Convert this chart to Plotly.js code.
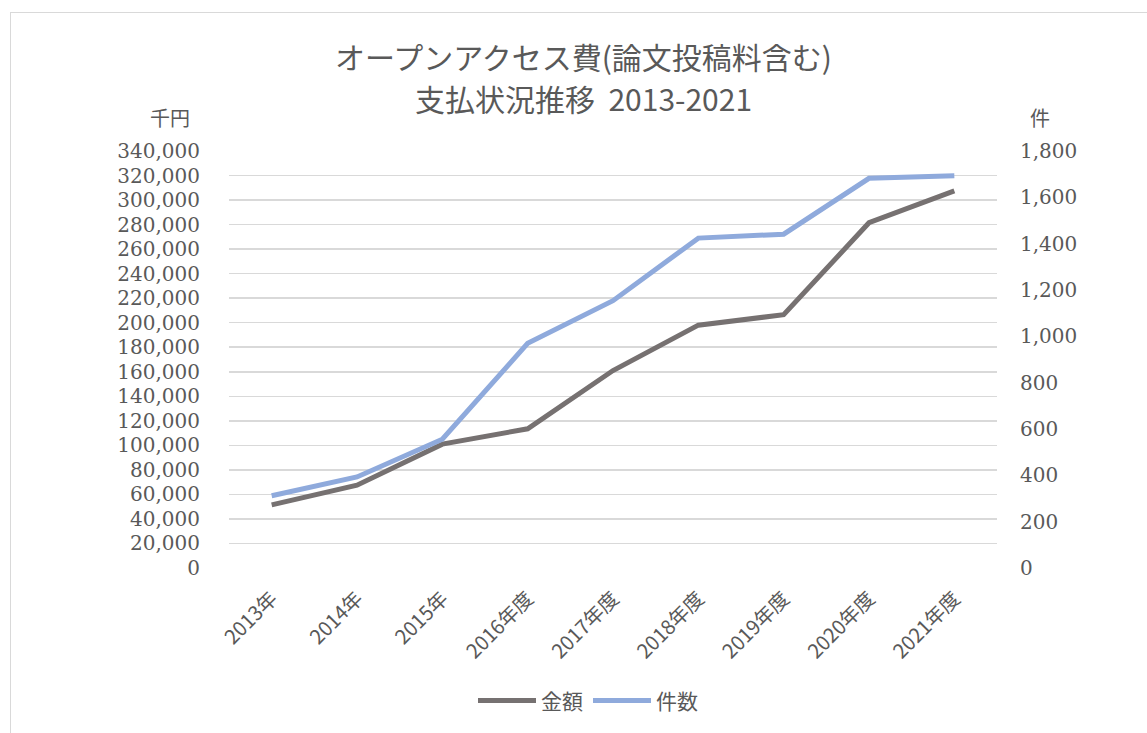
<!DOCTYPE html>
<html>
<head>
<meta charset="utf-8">
<script src="https://cdn.plot.ly/plotly-3.0.1.min.js"></script>
<style>
html,body{margin:0;padding:0;overflow:hidden;background:#fff;}
#frame{position:absolute;left:10px;top:12px;width:1300px;height:900px;border:1px solid #d9d9d9;box-sizing:border-box;pointer-events:none;z-index:5;}
#chart{position:absolute;left:0;top:0;width:1147px;height:733px;}
</style>
</head>
<body>
<div id="chart"></div>
<div id="frame"></div>
<script>
const categories = ["2013年","2014年","2015年","2016年度","2017年度","2018年度","2019年度","2020年度","2021年度"];
const amountValues = [51500, 67500, 101000, 113500, 161000, 198000, 206500, 281500, 307500];
const countValues = [312, 393, 556, 970, 1154, 1424, 1441, 1682, 1693];
const seriesNames = ["金額","件数"];
const titleLines = ["オープンアクセス費(論文投稿料含む)", "支払状況推移\u00a0\u00a02013-2021"];
const leftTicks = [0,20000,40000,60000,80000,100000,120000,140000,160000,180000,200000,220000,240000,260000,280000,300000,320000,340000];
const rightTicks = [0,200,400,600,800,1000,1200,1400,1600,1800];

const gray = "#595959";
const sans = "Noto Sans CJK JP, sans-serif";
const serif = "DejaVu Serif, Liberation Serif, serif";

const traces = [
  {x: categories, y: amountValues, name: seriesNames[0], type: "scatter", mode: "lines",
   line: {color: "#767171", width: 5}, yaxis: "y"},
  {x: categories, y: countValues, name: seriesNames[1], type: "scatter", mode: "lines",
   line: {color: "#8FAADC", width: 5}, yaxis: "y2"}
];

const px = v => (v - 229) / 768;
const py = v => (572 - v) / 421;

const layout = {
  width: 1147, height: 733,
  margin: {l: 229, r: 150, t: 151, b: 161},
  paper_bgcolor: "rgba(0,0,0,0)", plot_bgcolor: "rgba(0,0,0,0)",
  separators: ".,",
  xaxis: {
    type: "category", range: [-0.5, 8.5],
    showgrid: false, zeroline: false, showline: false,
    tickangle: -45, ticks: "", ticklabelstandoff: 14,
    tickfont: {family: sans, size: 20, color: gray}
  },
  yaxis: {
    range: [0, 340000], tickvals: leftTicks, tickformat: ",d",
    showgrid: true, gridcolor: "#d9d9d9", gridwidth: 1.5,
    zeroline: false, showline: false, ticks: "", ticklabelstandoff: 28,
    tickfont: {family: serif, size: 20, color: gray}
  },
  yaxis2: {
    overlaying: "y", side: "right",
    range: [0, 1800], tickvals: rightTicks, tickformat: ",d",
    showgrid: false, zeroline: false, showline: false, ticks: "", ticklabelstandoff: 22,
    tickfont: {family: serif, size: 20, color: gray}
  },
  showlegend: true,
  legend: {
    orientation: "h", x: px(588), xanchor: "center", y: py(706), yanchor: "middle",
    font: {family: sans, size: 21, color: gray}, itemwidth: 58,
    bgcolor: "rgba(0,0,0,0)"
  },
  annotations: [
    {text: titleLines[0], xref: "paper", yref: "paper", x: px(583), y: py(55),
     xanchor: "center", yanchor: "middle", showarrow: false,
     font: {family: sans, size: 30, color: gray}},
    {text: titleLines[1], xref: "paper", yref: "paper", x: px(583), y: py(97),
     xanchor: "center", yanchor: "middle", showarrow: false,
     font: {family: sans, size: 30, color: gray}},
    {text: "千円", xref: "paper", yref: "paper", x: px(170), y: py(117),
     xanchor: "center", yanchor: "middle", showarrow: false,
     font: {family: sans, size: 20, color: gray}},
    {text: "件", xref: "paper", yref: "paper", x: px(1040), y: py(117),
     xanchor: "center", yanchor: "middle", showarrow: false,
     font: {family: sans, size: 20, color: gray}}
  ]
};

Plotly.newPlot("chart", traces, layout, {displayModeBar: false, staticPlot: true});
</script>
</body>
</html>
